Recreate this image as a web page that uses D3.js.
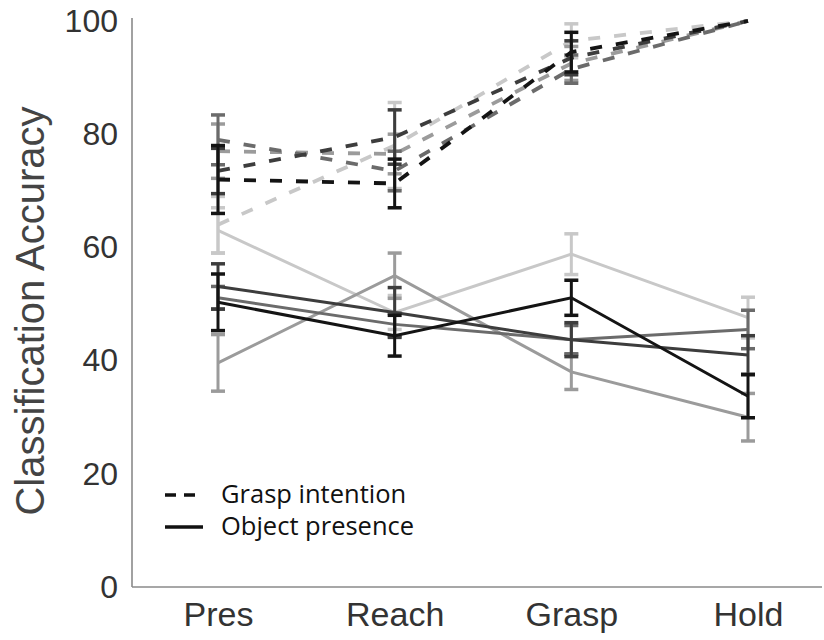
<!DOCTYPE html>
<html>
<head>
<meta charset="utf-8">
<script src="https://cdn.jsdelivr.net/npm/d3@7"></script>
<style>
  body { margin: 0; background: #fff; }
  svg { display: block; }
</style>
</head>
<body>
<svg id="chart" width="824" height="640"></svg>
<script>
// Task phases along the x axis
const phases = ["Pres", "Reach", "Grasp", "Hold"];
const yTicks = [0, 20, 40, 60, 80, 100];

// Grasp intention decoding (dashed), one row per participant
const graspMean = [
  [72.0, 71.3, 94.5, 100],
  [73.5, 79.5, 93.5, 100],
  [79.0, 73.5, 91.5, 100],
  [77.0, 76.5, 92.5, 100],
  [64.0, 78.0, 96.5, 100]
];
const graspErr = [
  [6.0, 4.3, 3.5, 0],
  [4.0, 4.8, 3.0, 0],
  [4.4, 3.5, 2.5, 0],
  [4.8, 3.5, 3.0, 0],
  [5.0, 7.6, 3.0, 0]
];

// Object presence decoding (solid), one row per participant
const presenceMean = [
  [50.3, 44.4, 51.1, 33.7],
  [53.1, 48.5, 43.7, 41.0],
  [51.1, 46.4, 43.7, 45.5],
  [39.6, 55.0, 38.0, 30.0],
  [63.0, 48.5, 58.8, 47.6]
];
const presenceErr = [
  [5.0, 3.6, 3.1, 3.8],
  [4.0, 4.4, 3.0, 3.4],
  [2.0, 2.0, 2.5, 3.4],
  [5.0, 4.0, 3.1, 4.2],
  [4.0, 3.0, 3.6, 3.6]
];

// Grey level per participant (darkest first)
const shades = ["#141414", "#3d3d3d", "#6b6b6b", "#9b9b9b", "#c8c8c8"];

const legendItems = ["Grasp intention", "Object presence"];

const svg = d3.select("#chart");
const W = 824, H = 640;
const mLeft = 132, mBottom = 587, mTop = 21;

const x = d3.scalePoint().domain(phases).range([218, 748]);
const y = d3.scaleLinear().domain([0, 100]).range([mBottom, mTop]);

// Axes
const yAxis = svg.append("g")
  .attr("transform", `translate(${mLeft},0)`)
  .call(d3.axisLeft(y).tickValues(yTicks).tickSize(0).tickSizeOuter(0).tickPadding(14));
yAxis.select(".domain").attr("stroke", "#8a8a8a").attr("stroke-width", 1.6)
  .attr("d", `M0,${mTop - 3}V${mBottom}`);
yAxis.selectAll("text")
  .attr("font-family", "Liberation Sans, Arial, sans-serif")
  .attr("font-size", 32).attr("fill", "#333");

svg.append("line")
  .attr("x1", mLeft).attr("x2", W - 2).attr("y1", mBottom).attr("y2", mBottom)
  .attr("stroke", "#8a8a8a").attr("stroke-width", 1.6);

const xAxis = svg.append("g")
  .attr("transform", `translate(0,${mBottom})`)
  .call(d3.axisBottom(x).tickSize(0).tickPadding(15));
xAxis.select(".domain").remove();
xAxis.selectAll("text")
  .attr("font-family", "Liberation Sans, Arial, sans-serif")
  .attr("font-size", 34).attr("fill", "#333");

svg.append("text")
  .attr("transform", `translate(44,311) rotate(-90)`)
  .attr("text-anchor", "middle")
  .attr("font-family", "Liberation Sans, Arial, sans-serif")
  .attr("font-size", 40).attr("fill", "#444")
  .text("Classification Accuracy");

const line = d3.line().x((d, i) => x(phases[i])).y(d => y(d));

function drawSet(means, errs, dashed) {
  for (let k = means.length - 1; k >= 0; k--) {
    const c = shades[k];
    const g = svg.append("g");
    means[k].forEach((m, i) => {
      const e = errs[k][i];
      if (e <= 0) return;
      const cx = x(phases[i]);
      g.append("line")
        .attr("x1", cx).attr("x2", cx).attr("y1", y(m - e)).attr("y2", y(m + e))
        .attr("stroke", c).attr("stroke-width", 3);
      [m - e, m + e].forEach(v => {
        g.append("line")
          .attr("x1", cx - 7).attr("x2", cx + 7).attr("y1", y(v)).attr("y2", y(v))
          .attr("stroke", c).attr("stroke-width", 3.5);
      });
    });
    g.append("path")
      .datum(means[k])
      .attr("d", line)
      .attr("fill", "none")
      .attr("stroke", c)
      .attr("stroke-width", dashed ? 3.8 : 3)
      .attr("stroke-dasharray", dashed ? "12,14" : null);
  }
}

drawSet(presenceMean, presenceErr, false);
drawSet(graspMean, graspErr, true);

// Legend
const lg = svg.append("g");
legendItems.forEach((label, i) => {
  const ly = 495 + i * 32;
  lg.append("line")
    .attr("x1", 165).attr("x2", 203).attr("y1", ly).attr("y2", ly)
    .attr("stroke", "#111").attr("stroke-width", 3.5)
    .attr("stroke-dasharray", i === 0 ? "11,8" : null);
  lg.append("text")
    .attr("x", 221).attr("y", ly + 8)
    .attr("font-family", "Open Sans, sans-serif")
    .attr("font-size", 25.5).attr("fill", "#111")
    .text(label);
});
</script>
</body>
</html>
